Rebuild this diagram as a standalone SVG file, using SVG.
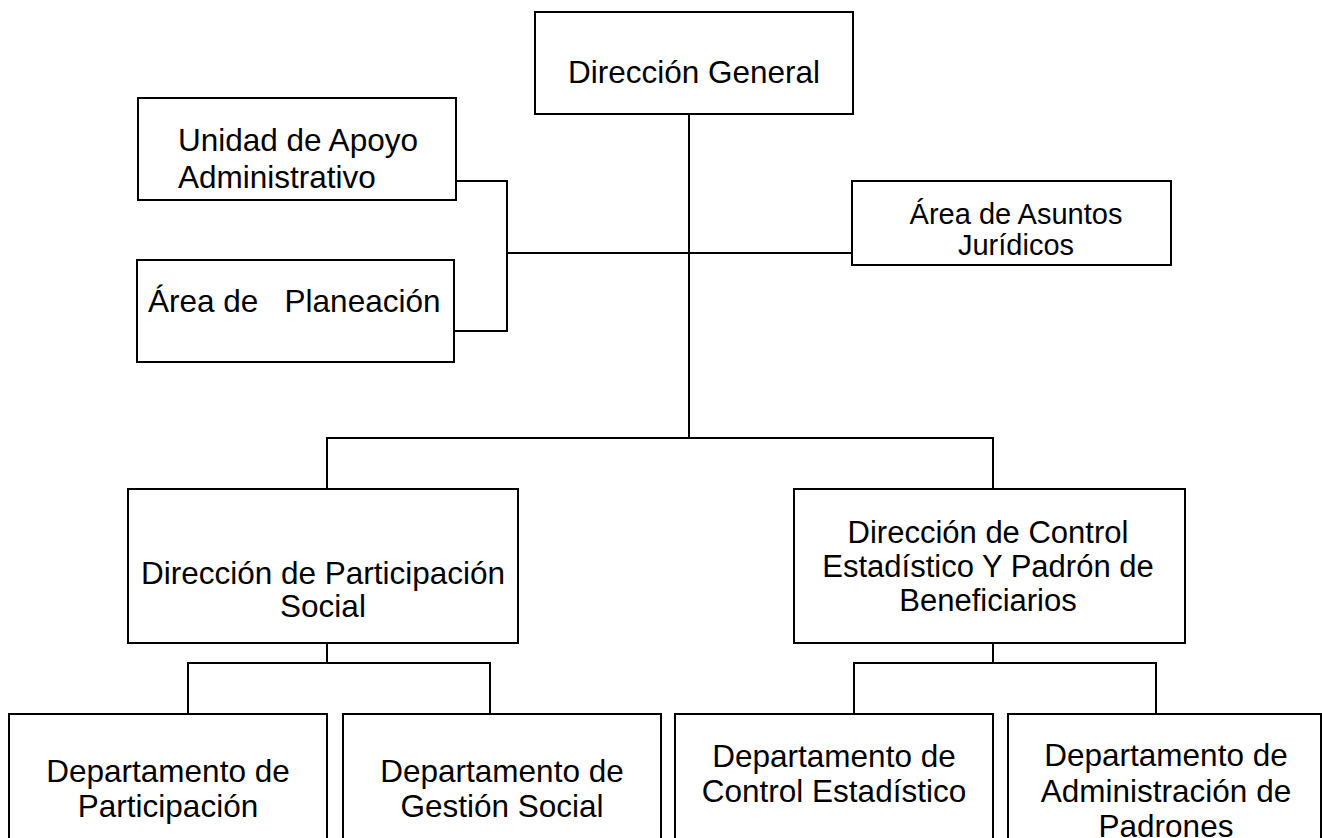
<svg xmlns="http://www.w3.org/2000/svg" width="1322" height="838" viewBox="0 0 1322 838">
<style>
.box{fill:#fff;stroke:#000;stroke-width:2}
.ln{fill:none;stroke:#000;stroke-width:2}
text{font-family:"Liberation Sans",Arial,sans-serif;font-size:31.5px;fill:#000}
.c{text-anchor:middle}
</style>
<rect width="1322" height="838" fill="#fff"/>
<g id="connectors">
<path class="ln" d="M689,114 V438"/>
<path class="ln" d="M456,181 H507 V331 H455"/>
<path class="ln" d="M507,253 H852"/>
<path class="ln" d="M327,489 V438 H993 V489"/>
<path class="ln" d="M327,643 V663 M188,714 V663 H490 V714"/>
<path class="ln" d="M993,643 V663 M854,714 V663 H1156 V714"/>
</g>
<g id="n-direccion-general">
<rect class="box" x="535" y="12" width="318" height="102"/>
<text class="c" x="694" y="83">Dirección General</text>
</g>
<g id="n-unidad-apoyo">
<rect class="box" x="138" y="98" width="318" height="102"/>
<text x="178" y="151">Unidad de Apoyo</text>
<text x="178" y="188">Administrativo</text>
</g>
<g id="n-area-planeacion">
<rect class="box" x="137" y="260" width="317" height="102"/>
<text x="148" y="312" xml:space="preserve">Área de   Planeación</text>
</g>
<g id="n-asuntos-juridicos">
<rect class="box" x="852" y="181" width="319" height="84"/>
<text class="c" x="1016" y="224" style="font-size:29px">Área de Asuntos</text>
<text class="c" x="1016" y="255" style="font-size:29px">Jurídicos</text>
</g>
<g id="n-dir-participacion">
<rect class="box" x="128" y="489" width="390" height="154"/>
<text class="c" x="323" y="584">Dirección de Participación</text>
<text class="c" x="323" y="617">Social</text>
</g>
<g id="n-dir-control">
<rect class="box" x="794" y="489" width="391" height="154"/>
<text class="c" x="988" y="543" style="font-size:31px">Dirección de Control</text>
<text class="c" x="988" y="577" style="font-size:31px">Estadístico Y Padrón de</text>
<text class="c" x="988" y="611" style="font-size:31px">Beneficiarios</text>
</g>
<g id="n-depto-participacion">
<rect class="box" x="9" y="714" width="318" height="140"/>
<text class="c" x="168" y="782">Departamento de</text>
<text class="c" x="168" y="817">Participación</text>
</g>
<g id="n-depto-gestion">
<rect class="box" x="343" y="714" width="318" height="140"/>
<text class="c" x="502" y="782">Departamento de</text>
<text class="c" x="502" y="817">Gestión Social</text>
</g>
<g id="n-depto-control">
<rect class="box" x="675" y="714" width="318" height="140"/>
<text class="c" x="834" y="767">Departamento de</text>
<text class="c" x="834" y="802">Control Estadístico</text>
</g>
<g id="n-depto-padrones">
<rect class="box" x="1008" y="714" width="313" height="140"/>
<text class="c" x="1166" y="766">Departamento de</text>
<text class="c" x="1166" y="802">Administración de</text>
<text class="c" x="1166" y="837">Padrones</text>
</g>
</svg>
